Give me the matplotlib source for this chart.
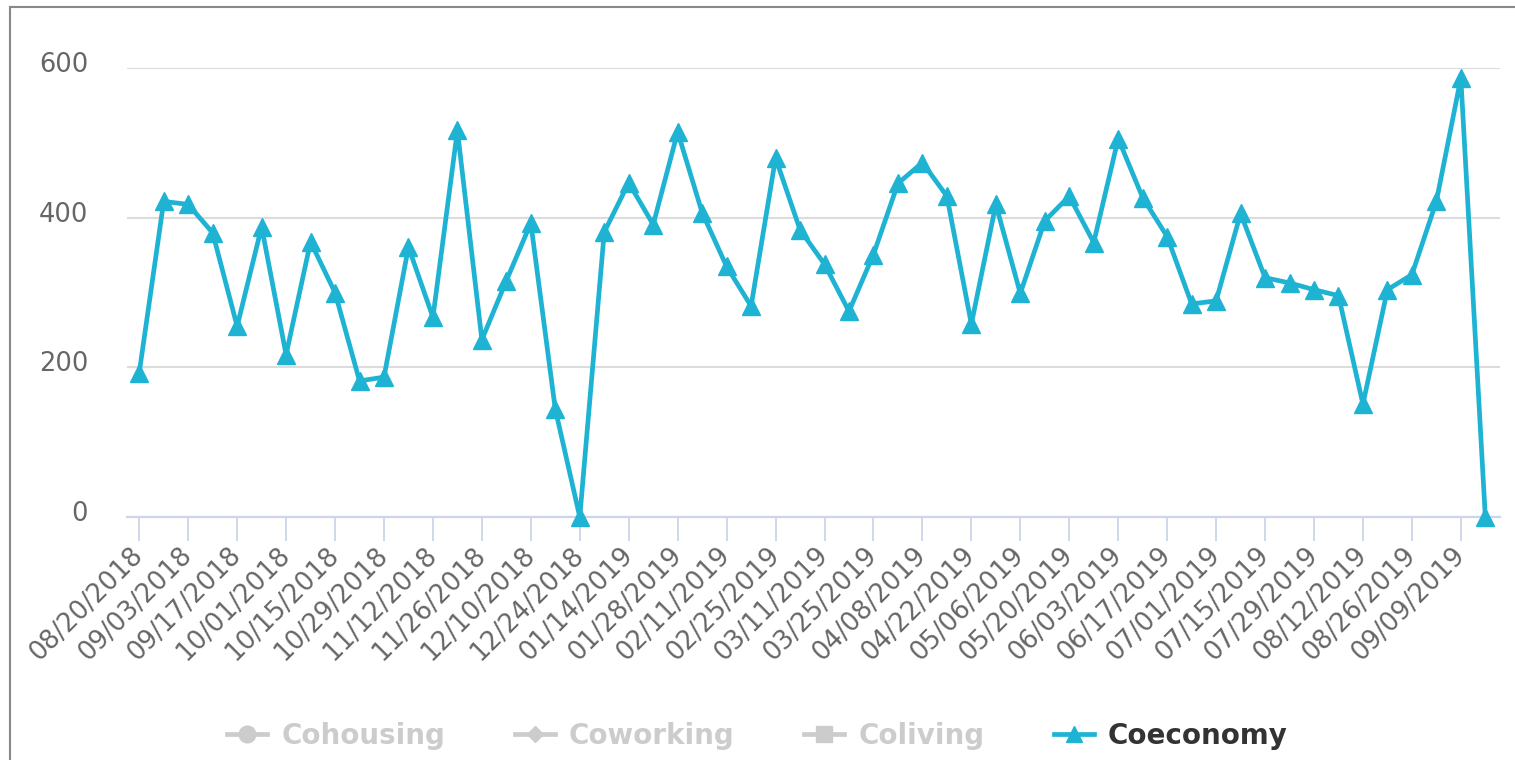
import matplotlib
matplotlib.use("Agg")
import matplotlib.pyplot as plt
from matplotlib.lines import Line2D
from matplotlib.patches import Rectangle
from matplotlib.transforms import ScaledTranslation

# weekly categories (week 12/31/2018 -> 01/07/2019 collapsed into one bucket)
weeks = [
    "08/20/2018", "08/27/2018", "09/03/2018", "09/10/2018", "09/17/2018", "09/24/2018",
    "10/01/2018", "10/08/2018", "10/15/2018", "10/22/2018", "10/29/2018", "11/05/2018",
    "11/12/2018", "11/19/2018", "11/26/2018", "12/03/2018", "12/10/2018", "12/17/2018",
    "12/24/2018", "12/31/2018", "01/14/2019", "01/21/2019", "01/28/2019", "02/04/2019",
    "02/11/2019", "02/18/2019", "02/25/2019", "03/04/2019", "03/11/2019", "03/18/2019",
    "03/25/2019", "04/01/2019", "04/08/2019", "04/15/2019", "04/22/2019", "04/29/2019",
    "05/06/2019", "05/13/2019", "05/20/2019", "05/27/2019", "06/03/2019", "06/10/2019",
    "06/17/2019", "06/24/2019", "07/01/2019", "07/08/2019", "07/15/2019", "07/22/2019",
    "07/29/2019", "08/05/2019", "08/12/2019", "08/19/2019", "08/26/2019", "09/02/2019",
    "09/09/2019", "09/16/2019",
]

coeconomy = [
    193, 422, 418, 380, 255, 388, 217, 368, 300, 182, 187, 361, 267, 517, 237, 316,
    393, 144, 0, 381, 447, 391, 515, 407, 335, 282, 480, 384, 338, 275, 351, 446,
    474, 429, 258, 418, 299, 396, 429, 367, 506, 427, 375, 285, 289, 406, 320, 313,
    304, 296, 151, 304, 324, 422, 587, 0,
]

series_names = ["Cohousing", "Coworking", "Coliving", "Coeconomy"]
series_markers = ["o", "D", "s", "^"]
series_visible = [False, False, False, True]

LINE = "#1fb3d3"
HIDDEN = "#cccccc"

fig = plt.figure(figsize=(15.15, 7.6), dpi=100)
ax = fig.add_axes([127 / 1515, 1 - 517 / 760, (1500 - 127) / 1515, (517 - 68.3) / 760])

x = list(range(len(weeks)))
ax.plot(x, coeconomy, color=LINE, lw=3.4, marker="^", ms=13, clip_on=False, zorder=3)

ax.set_xlim(-0.5, 55.6)
ax.set_ylim(0, 600)
ax.set_yticks([0, 200, 400, 600])
ax.grid(axis="y", color="#dcdcdc", lw=1.5)
ax.set_axisbelow(True)

for s in ["top", "right", "left"]:
    ax.spines[s].set_visible(False)
ax.spines["bottom"].set_color("#ccd6eb")
ax.spines["bottom"].set_linewidth(1.6)
ax.spines["bottom"].set_zorder(2)

ax.set_xticks(x[::2])
ax.set_xticklabels(weeks[::2])
ax.tick_params(axis="x", length=17, width=1.3, color="#ccd6eb", pad=8,
               labelsize=18.5, labelcolor="#666666")
plt.setp(ax.get_xticklabels(), rotation=45, ha="right", va="center", rotation_mode="anchor")
ax.tick_params(axis="y", length=0, pad=28, labelsize=18.5, labelcolor="#666666")
for lab in ax.get_yticklabels():
    lab.set_transform(lab.get_transform() + ScaledTranslation(0, 6 / 100, fig.dpi_scale_trans))

handles = []
for name, m, vis in zip(series_names, series_markers, series_visible):
    c = LINE if vis else HIDDEN
    handles.append(Line2D([], [], color=c, lw=3.4, marker=m, ms=12 if m != "D" else 8))
leg = fig.legend(handles, series_names, loc="center", bbox_to_anchor=(0.5, 1 - 736 / 760),
                 ncol=4, frameon=False, handlelength=1.45, handletextpad=0.5,
                 columnspacing=2.5, prop={"weight": "bold", "size": 20})
for txt, vis in zip(leg.get_texts(), series_visible):
    txt.set_color("#333333" if vis else HIDDEN)

# outer frame of the screenshot (only top and left edges are visible)
fig.patches.append(Rectangle((10 / 1515, -0.5), 1.5, 1.5 - 7 / 760, transform=fig.transFigure,
                             fill=False, edgecolor="#888888", lw=1.5))

fig.savefig("out.png", dpi=100)
